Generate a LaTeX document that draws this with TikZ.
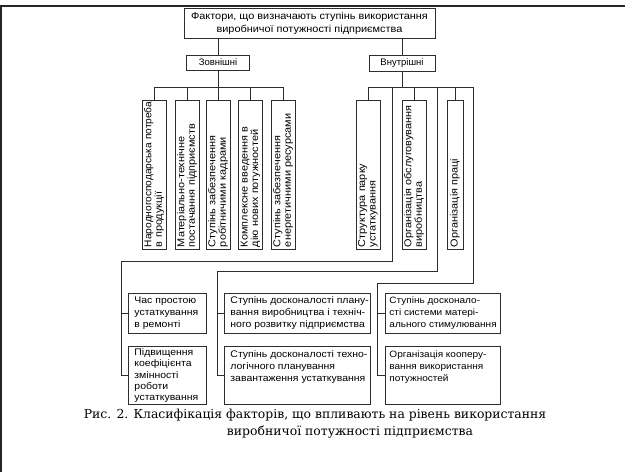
\documentclass[tikz,border=0pt]{standalone}
\usepackage{fontspec}
\setmainfont{Liberation Sans}
\newfontfamily\boxfont[FakeStretch=1.09]{Liberation Sans}
\newfontfamily\capfont{DejaVu Serif}
\usetikzlibrary{calc}
\definecolor{linec}{RGB}{45,45,45}
\newcommand{\lines}[1]{\begin{tabular}{@{}l@{}}#1\end{tabular}}
\begin{document}
\begin{tikzpicture}[x=1pt,y=-1pt,
  box/.style={draw=linec, line width=0.9pt, inner sep=0pt, font=\boxfont\fontsize{10}{12}\selectfont},
  vbox/.style={box, rotate=90, minimum width=149pt, minimum height=24pt,
    align=left, text width=145pt, font=\boxfont\fontsize{10}{10.5}\selectfont},
  hbox/.style={box, anchor=north west, inner xsep=6pt, inner ysep=3pt,
    font=\boxfont\fontsize{9.6}{12}\selectfont},
  conn/.style={draw=linec, line width=0.9pt},
  frame/.style={draw=black!85, line width=2pt}]
\useasboundingbox (0,0) rectangle (625,472);

% page frame
\draw[frame] (0,6) -- (625,6);
\draw[frame, line width=1.6pt] (1,6) -- (1,472);

% top levels
\node[box, minimum width=251pt, minimum height=30pt, align=center,
  font=\boxfont\fontsize{10}{13}\selectfont] (title) at (309.5,23)
  {Фактори, що визначають ступінь використання\\виробничої потужності підприємства};
\node[box, minimum width=63pt, minimum height=15pt, font=\fontsize{9.5}{11}\selectfont] (ext) at (218,62.5) {Зовнішні};
\node[box, minimum width=66pt, minimum height=16pt, font=\fontsize{9.5}{11}\selectfont] (int) at (402,63) {Внутрішні};
\draw[conn] (title.south -| ext.north) -- (ext.north);
\draw[conn] (title.south -| int.north) -- (int.north);

% external factors
\node[vbox] (b1) at (154,174.5) {\scalebox{0.93}[1]{Народногосподарська потреба}\\в продукції};
\node[vbox] (b2) at (187,174.5) {Матеріально-технічне\\постачання підприємств};
\node[vbox] (b3) at (218,174.5) {Ступінь забезпечення\\робітничими кадрами};
\node[vbox] (b4) at (250.5,174.5) {Комплексне введення в\\дію нових потужностей};
\node[vbox] (b5) at (283,174.5) {Ступінь забезпечення\\енергетичними ресурсами};

\coordinate (busL) at (218,87);
\draw[conn] (ext.south) -- (ext.south |- busL);
\draw[conn] (b1.east |- busL) -- (b5.east |- busL);
\foreach \b in {b1,b2,b3,b4,b5} \draw[conn] (\b.east) -- (\b.east |- busL);

% internal factors
\node[vbox] (b6) at (368,174.5) {Структура парку\\устаткування};
\node[vbox] (b7) at (414,174.5) {Організація обслуговування\\виробництва};
\node[vbox, minimum height=16pt] (b8) at (455,174.5) {Організація праці};

\coordinate (busR) at (402,87);
\coordinate (j1) at (392,87);
\coordinate (j2) at (437,87);
\coordinate (j3) at (473,87);
\draw[conn] (int.south) -- (busR);
\draw[conn] (b6.east |- busR) -- (j3);
\foreach \b in {b6,b7,b8} \draw[conn] (\b.east) -- (\b.east |- busR);

% lower boxes
\node[hbox] (c1) at (128,293) {\parbox[c][34pt][c]{66pt}{\lines{Час простою\\устаткування\\в ремонті}}};
\node[hbox, inner ysep=1.5pt, font=\boxfont\fontsize{9.6}{11.2}\selectfont] (c2) at (128,346)
  {\parbox[c][55pt][t]{66pt}{\lines{Підвищення\\коефіцієнта\\змінності\\роботи\\устаткування}}};
\node[hbox] (d1) at (224,293) {\parbox[c][34pt][c]{134pt}{\lines{Ступінь досконалості плану-\\вання виробництва і техніч-\\ного розвитку підприємства}}};
\node[hbox] (d2) at (224,346) {\parbox[c][52pt][t]{134pt}{\lines{Ступінь досконалості техно-\\логічного планування\\завантаження устаткування}}};
\node[hbox, inner xsep=4pt, font=\boxfont\fontsize{9.2}{12}\selectfont] (e1) at (385,293)
  {\parbox[c][34pt][c]{107pt}{\lines{Ступінь досконало-\\сті системи матері-\\ального стимулювання}}};
\node[hbox, inner xsep=4pt, font=\boxfont\fontsize{9.2}{12}\selectfont] (e2) at (385,346)
  {\parbox[c][52pt][t]{107pt}{\lines{Організація кооперу-\\вання використання\\потужностей}}};

\coordinate (k1) at (121,261);
\coordinate (k2) at (217,271);
\coordinate (k3) at (377,283);
\draw[conn] (j1) |- (k1) -- (k1 |- c2.west);
\draw[conn] (j2) |- (k2) -- (k2 |- d2.west);
\draw[conn] (j3) |- (k3) -- (k3 |- e2.west);
\foreach \c/\k in {c1/k1,c2/k1,d1/k2,d2/k2,e1/k3,e2/k3}
  \draw[conn] (\c.west) -- (\c.west -| \k);

% caption
\node[font=\capfont\fontsize{12.4}{14}\selectfont, inner sep=0pt] (cap1) at (315,415)
  {Рис. 2. Класифікація факторів, що впливають на рівень використання};
\node[font=\capfont\fontsize{12.4}{14}\selectfont, inner sep=0pt] (cap2) at (350,432)
  {виробничої потужності підприємства};
\end{tikzpicture}
\end{document}
